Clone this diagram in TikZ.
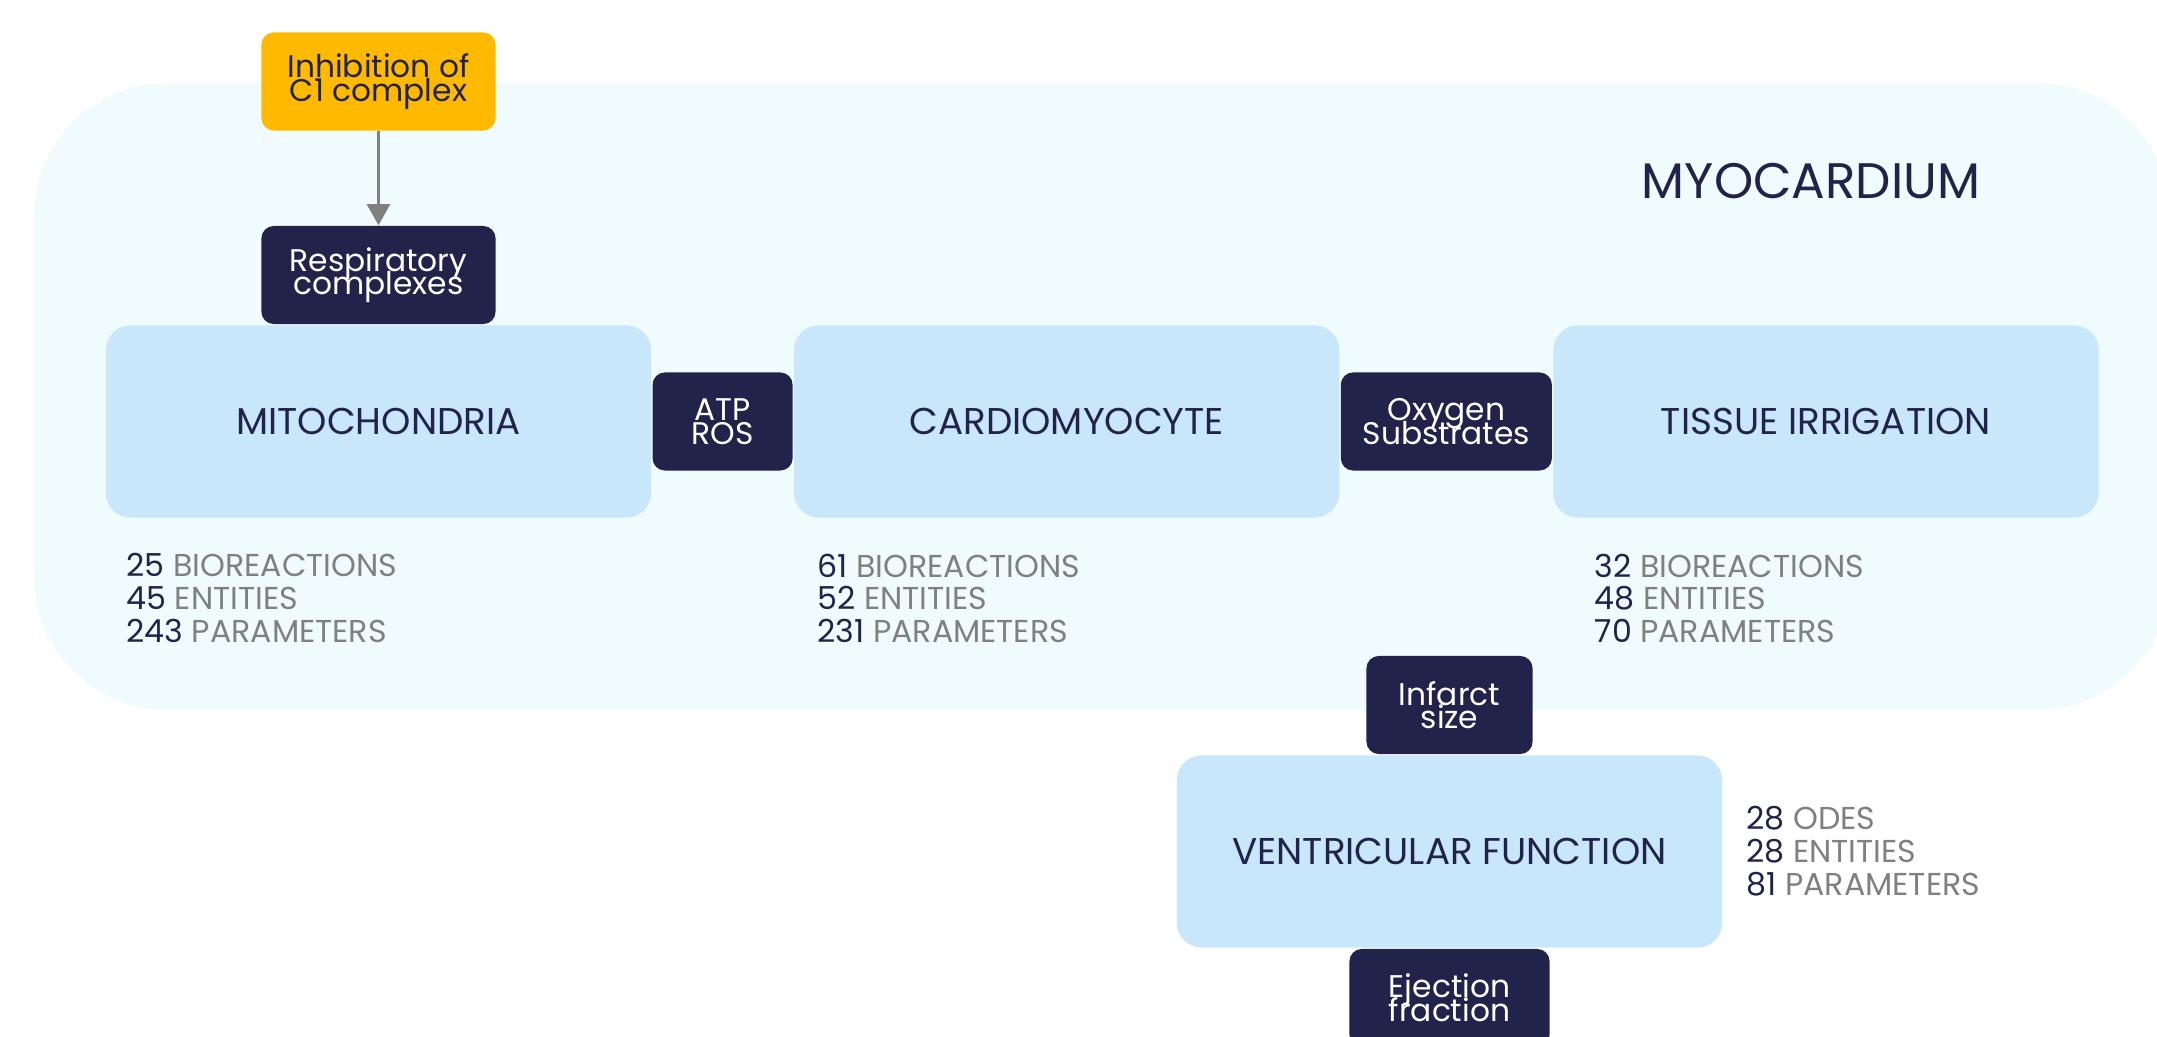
\documentclass[tikz,border=0pt]{standalone}
\usepackage{fontspec}
\setmainfont{Poppins}
\usetikzlibrary{positioning,arrows.meta}
\definecolor{navy}{HTML}{22234A}
\definecolor{cellblue}{HTML}{C9E7FB}
\definecolor{tissuebg}{HTML}{EFFBFC}
\definecolor{inhibyellow}{HTML}{FFBA00}
\definecolor{statgray}{HTML}{808080}
\newcommand{\statline}[2]{\textcolor{navy}{#1} \textcolor{statgray}{#2}}
\newcommand{\tightlines}{\lineskiplimit=-20pt\relax}

\begin{document}
\begin{tikzpicture}[x=0.01cm,y=-0.01cm,
    level/.style={fill=cellblue, rounded corners=7pt, minimum width=5.45cm, minimum height=1.92cm,
      text=navy, font=\fontsize{10.6}{13}\selectfont},
    flux/.style={fill=navy, rounded corners=3.5pt, minimum height=0.98cm, inner sep=0pt,
      text=white, align=center, font=\fontsize{8.9}{6.7}\selectfont\tightlines},
    stats/.style={anchor=north west, align=left, inner sep=0pt,
      font=\fontsize{9}{9.3}\selectfont\tightlines},
  ]
    \useasboundingbox (0,0) rectangle (2157,1037);
    \clip (0,0) rectangle (2157,1037);
    \fill[white] (0,0) rectangle (2157,1037);

    % myocardium compartment
    \fill[tissuebg, rounded corners=38pt] (34,83) rectangle (2170,710);
    \node[text=navy, font=\fontsize{14.2}{17}\selectfont] (myo) at (1811,181) {MYOCARDIUM};

    \node[level] (mito) at (378.5,421.5) {MITOCHONDRIA};
    \node[flux, minimum width=1.40cm, right=0pt of mito] (atp) {ATP\\ROS};
    \node[level, right=0pt of atp] (cardio) {CARDIOMYOCYTE};
    \node[flux, minimum width=2.11cm, right=0pt of cardio] (oxy) {Oxygen\\Substrates};
    \node[level, right=0pt of oxy] (tissue) {TISSUE IRRIGATION};

    \node[flux, minimum width=2.34cm, above=0pt of mito] (resp) {Respiratory\\complexes};
    \node[flux, fill=inhibyellow, text=navy, minimum width=2.34cm, above=0.94cm of resp] (inhib) {Inhibition of\\C1 complex};
    \draw[-{Triangle[width=6.5pt,length=6pt]}, statgray, line width=0.85pt] (inhib) -- (resp);

    \node[stats] (mitostats) at (126,553) {\statline{25}{BIOREACTIONS}\\\statline{45}{ENTITIES}\\\statline{243}{PARAMETERS}};
    \node[stats] (cardiostats) at (817,553) {\statline{61}{BIOREACTIONS}\\\statline{52}{ENTITIES}\\\statline{231}{PARAMETERS}};
    \node[stats] (tissuestats) at (1594,553) {\statline{32}{BIOREACTIONS}\\\statline{48}{ENTITIES}\\\statline{70}{PARAMETERS}};

    % organ level
    \node[level] (vent) at (1449.5,851.5) {VENTRICULAR FUNCTION};
    \node[flux, minimum width=1.66cm, above=0pt of vent] (infarct) {Infarct\\size};
    \node[flux, minimum width=2.00cm, below=0pt of vent] (eject) {Ejection\\fraction};
    \node[stats] (ventstats) at (1746,806) {\statline{28}{ODES}\\\statline{28}{ENTITIES}\\\statline{81}{PARAMETERS}};
\end{tikzpicture}
\end{document}
